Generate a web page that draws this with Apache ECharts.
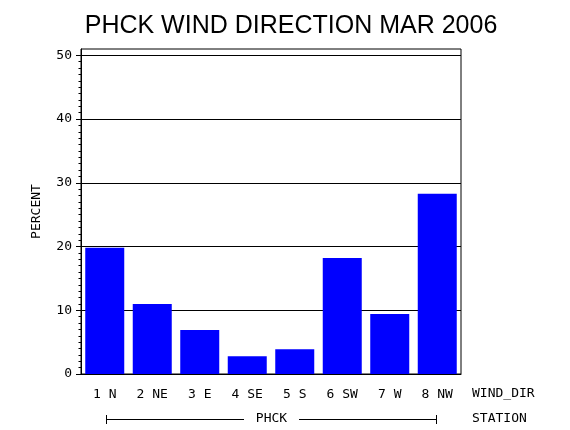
<!DOCTYPE html>
<html>
<head>
<meta charset="utf-8">
<script src="https://cdn.jsdelivr.net/npm/echarts@6/dist/echarts.min.js"></script>
<style>html,body{margin:0;padding:0;background:#fff}#c{width:570px;height:430px}</style>
</head>
<body>
<div id="c"></div>
<script>
var categories = ['1 N', '2 NE', '3 E', '4 SE', '5 S', '6 SW', '7 W', '8 NW'];
var percentValues = [19.8, 11.0, 6.9, 2.8, 3.9, 18.2, 9.4, 28.3];
var yTickValues = [0, 10, 20, 30, 40, 50];
var titleText = 'PHCK WIND DIRECTION MAR 2006';
var station = 'PHCK';

var chart = echarts.init(document.getElementById('c'), null, {renderer: 'canvas'});
var mono = 'DejaVu Sans Mono';
var smallFont = '13px "DejaVu Sans Mono"';
chart.setOption({
  animation: false,
  backgroundColor: '#fff',
  title: {
    text: titleText, left: 286, textAlign: 'center', top: 9,
    textStyle: {fontFamily: 'Liberation Sans', fontWeight: 'normal', fontSize: 25, color: '#000'}
  },
  grid: {left: 81, right: 109, top: 49, bottom: 56, show: true, borderColor: '#000', borderWidth: 1, backgroundColor: 'transparent'},
  xAxis: {
    type: 'category', data: categories,
    axisLine: {show: true, lineStyle: {color: '#000', width: 1}},
    axisTick: {show: false},
    axisLabel: {color: '#000', fontFamily: mono, fontSize: 13, margin: 14}
  },
  yAxis: {
    type: 'value', min: 0, max: 51, interval: 10,
    name: 'PERCENT', nameLocation: 'middle', nameGap: 38, nameRotate: 90,
    nameTextStyle: {color: '#000', fontFamily: mono, fontSize: 13},
    axisLine: {show: true, lineStyle: {color: '#000', width: 1}},
    axisTick: {show: true, length: 5, customValues: yTickValues, lineStyle: {color: '#000'}},
    minorTick: {show: true, splitNumber: 10, length: 2.5, lineStyle: {color: '#000'}},
    axisLabel: {color: '#000', fontFamily: mono, fontSize: 13, margin: 9, customValues: yTickValues},
    splitLine: {show: true, lineStyle: {color: '#000', width: 1}}
  },
  series: [{
    type: 'bar', data: percentValues, barWidth: 39,
    itemStyle: {color: '#0000ff'}
  }],
  graphic: [
    {type: 'text', x: 472, y: 394, style: {text: 'WIND_DIR', fill: '#000', font: smallFont, verticalAlign: 'middle'}},
    {type: 'text', x: 472, y: 419, style: {text: 'STATION', fill: '#000', font: smallFont, verticalAlign: 'middle'}},
    {type: 'text', x: 271.5, y: 419, style: {text: station, fill: '#000', font: smallFont, align: 'center', verticalAlign: 'middle'}},
    {type: 'line', shape: {x1: 106.5, y1: 419.5, x2: 244, y2: 419.5}, style: {stroke: '#000', lineWidth: 1}},
    {type: 'line', shape: {x1: 299, y1: 419.5, x2: 436.5, y2: 419.5}, style: {stroke: '#000', lineWidth: 1}},
    {type: 'line', shape: {x1: 106.5, y1: 415, x2: 106.5, y2: 424}, style: {stroke: '#000', lineWidth: 1}},
    {type: 'line', shape: {x1: 436.5, y1: 415, x2: 436.5, y2: 424}, style: {stroke: '#000', lineWidth: 1}}
  ]
});
</script>
</body>
</html>
